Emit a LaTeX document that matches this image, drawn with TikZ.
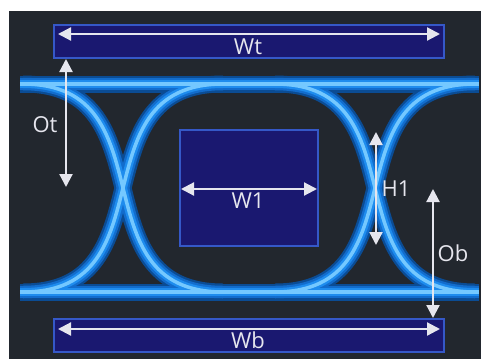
\documentclass[tikz,border=0pt]{standalone}
\usepackage{fontspec}
\setmainfont{Open Sans}
\usetikzlibrary{arrows.meta}
\definecolor{bgdark}{HTML}{22272E}
\definecolor{navyfill}{HTML}{1A1870}
\definecolor{navyedge}{HTML}{3558C8}
\definecolor{glowA}{HTML}{0B4C94}
\definecolor{glowB}{HTML}{126CCC}
\definecolor{glowC}{HTML}{1E8CEE}
\definecolor{glowD}{HTML}{74C8FF}
\definecolor{dimwhite}{HTML}{E6E6EE}
\tikzset{
  boxnav/.style={draw=navyedge, line width=1.5pt, fill=navyfill, inner sep=0pt, outer sep=0pt},
  dimarrow/.style={draw=dimwhite, line width=2.2pt, {Triangle[length=13pt,width=13pt]}-{Triangle[length=13pt,width=13pt]}},
  lbl/.style={text=dimwhite, font=\fontsize{22}{25}\selectfont, inner sep=0pt},
  layerA/.style={draw=glowA, line width=17pt},
  layerB/.style={draw=glowB, line width=12.5pt},
  layerC/.style={draw=glowC, line width=8pt},
  layerD/.style={draw=glowD, line width=3.5pt},
}
\newcommand\eyetraces[1]{%
  \draw[#1] (20,84) -- (479,84);
  \draw[#1] (20,292) -- (479,292);
  \draw[#1] (23,84) .. controls (171,84) and (75,292) .. (223,292);
  \draw[#1] (23,292) .. controls (171,292) and (75,84) .. (223,84);
  \draw[#1] (275,84) .. controls (423,84) and (327,292) .. (475,292);
  \draw[#1] (275,292) .. controls (423,292) and (327,84) .. (475,84);
}
\begin{document}
\begin{tikzpicture}[x=1pt,y=-1pt]
  \useasboundingbox (0,0) rectangle (481,359);
  \fill[white] (0,0) rectangle (481,359);
  \fill[bgdark] (9,11) rectangle (481,359);

  % eye diagram traces, layered glow
  \eyetraces{layerA}
  \eyetraces{layerB}
  \eyetraces{layerC}
  \eyetraces{layerD}

  % boxes
  \node[boxnav, minimum width=390pt, minimum height=33pt] (wtbox) at (249,41.5) {};
  \node[boxnav, minimum width=138pt, minimum height=116pt] (w1box) at (249,188) {};
  \node[boxnav, minimum width=390pt, minimum height=33pt] (wbbox) at (249,335.5) {};

  % arrow end points
  \coordinate (wtL) at (58,34);
  \coordinate (wtR) at (440,34);
  \coordinate (w1L) at (181,189);
  \coordinate (w1R) at (317,189);
  \coordinate (wbL) at (58,329);
  \coordinate (wbR) at (440,329);
  \coordinate (otT) at (66,59);
  \coordinate (otB) at (66,187);
  \coordinate (h1T) at (376,132);
  \coordinate (h1B) at (376,245);
  \coordinate (obT) at (433,189);
  \coordinate (obB) at (433,318);

  \draw[dimarrow] (wtL) -- (wtR);
  \draw[dimarrow] (w1L) -- (w1R);
  \draw[dimarrow] (wbL) -- (wbR);
  \draw[dimarrow] (otT) -- (otB);
  \draw[dimarrow] (h1T) -- (h1B);
  \draw[dimarrow] (obT) -- (obB);

  % labels
  \node[lbl] (wt) at (248,47) {Wt};
  \node[lbl] (w1) at (248,201) {W1};
  \node[lbl] (wb) at (248,340) {Wb};
  \node[lbl] (ot) at (45,125) {Ot};
  \node[lbl] (h1) at (396,189) {H1};
  \node[lbl] (ob) at (453,253) {Ob};
\end{tikzpicture}
\end{document}
